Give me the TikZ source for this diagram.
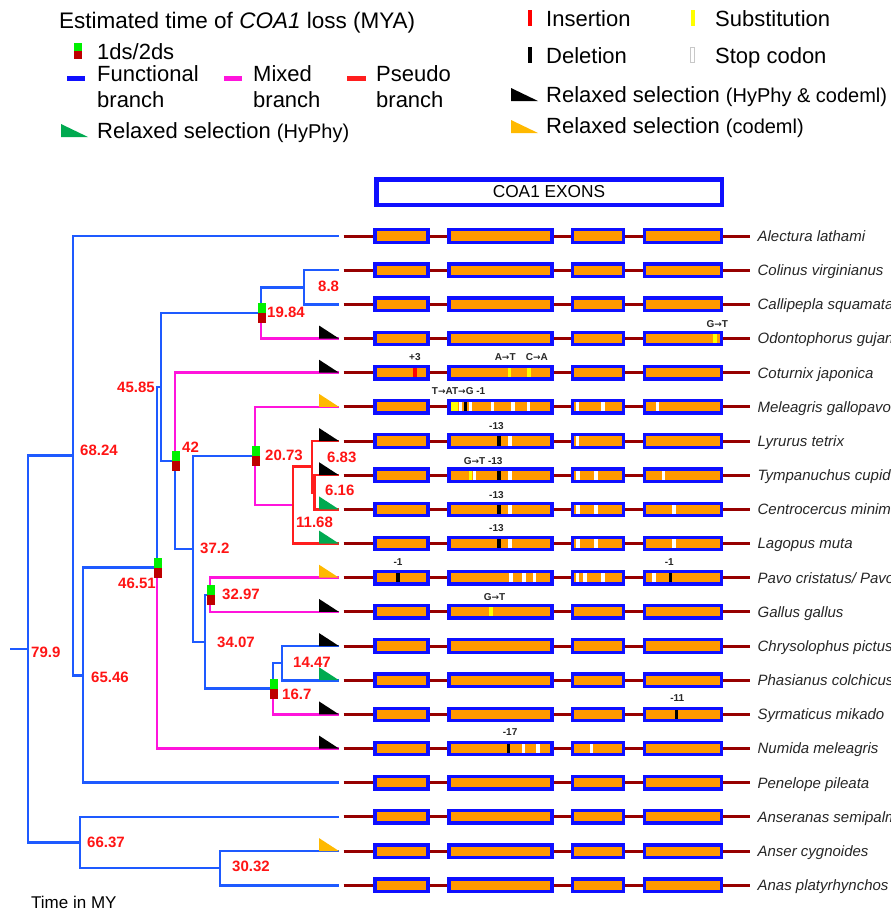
\documentclass[tikz,border=0pt]{standalone}
\usepackage{fontspec}
\setmainfont{Liberation Sans}
\newfontfamily\arrowfont{DejaVu Sans}
\newcommand\myarr{{\arrowfont\bfseries\fontsize{9}{9}\selectfont →}}
\usetikzlibrary{calc}
\definecolor{brblue}{RGB}{30,90,255}
\definecolor{brmag}{RGB}{255,20,220}
\definecolor{brred}{RGB}{255,30,30}
\definecolor{lblred}{RGB}{255,20,20}
\definecolor{exblue}{RGB}{15,15,255}
\definecolor{exorange}{RGB}{255,153,0}
\definecolor{genered}{RGB}{150,0,0}
\definecolor{mkgreen}{RGB}{0,240,0}
\definecolor{mkred}{RGB}{190,0,0}
\definecolor{trigreen}{RGB}{0,170,80}
\definecolor{triorange}{RGB}{255,185,0}
\definecolor{subyellow}{RGB}{255,255,0}
\definecolor{insred}{RGB}{255,0,0}
\definecolor{stopgray}{RGB}{200,200,200}
\newcommand\rowy[1]{236+34.17*#1}
\newcommand\mutmark[3]{\fill[#1] ({#3-1.75},{\rowy{#2}-4.6}) rectangle ({#3+1.75},{\rowy{#2}+4.6});}
\begin{document}
\begin{tikzpicture}[x=1pt,y=-1pt,
  brf/.style={draw=brblue,line width=2.6pt},
  brm/.style={draw=brmag,line width=2.6pt},
  brp/.style={draw=brred,line width=2.6pt},
  gline/.style={draw=genered,line width=3pt},
  exonbox/.style={draw=exblue,fill=exorange,line width=3.3pt},
  hdrbox/.style={draw=exblue,fill=white,line width=4.2pt},
  agelbl/.style={text=lblred,font=\bfseries\fontsize{15}{15}\selectfont,anchor=west,inner sep=0pt,text height=10.7pt,text depth=0pt},
  splbl/.style={text=black!85,font=\itshape\fontsize{15}{15}\selectfont,anchor=west,inner sep=0pt,text height=10.7pt,text depth=0pt},
  leglbl/.style={font=\fontsize{22}{22}\selectfont,anchor=west,inner sep=0pt,text height=15.75pt,text depth=0pt},
  mutlbl/.style={text=black!85,font=\bfseries\fontsize{10}{10}\selectfont,inner sep=0pt,text height=7.2pt,text depth=0pt},
  sub/.style={subyellow},
  ins/.style={insred},
  del/.style={black},
  stopc/.style={white},
]
\useasboundingbox (0,0) rectangle (891,911);

% ---------- legend ----------
\node[leglbl,font=\fontsize{22.5}{22.5}\selectfont,text height=16.1pt] (title) at (59,20) {Estimated time of \textit{COA1} loss (MYA)};
\fill[mkgreen] (74,43) rectangle (82,51);
\fill[mkred] (74,51) rectangle (82,59);
\node[leglbl] (lg1ds) at (97,52) {1ds/2ds};
\fill[exblue] (67,76) rectangle (85,81);
\node[leglbl] (lgfun) at (97,74) {Functional};
\node[leglbl] (lgfunb) at (97,100) {branch};
\fill[brmag] (224,76) rectangle (242,81);
\node[leglbl] (lgmix) at (253,74) {Mixed};
\node[leglbl] (lgmixb) at (253,100) {branch};
\fill[brred] (347,76) rectangle (366,81);
\node[leglbl] (lgpse) at (376,74) {Pseudo};
\node[leglbl] (lgpseb) at (376,100) {branch};
\fill[trigreen] (61,124) -- (61,137) -- (88,137) -- cycle;
\node[leglbl] (lgrh) at (97,131) {Relaxed selection {\fontsize{20}{20}\selectfont(HyPhy)}};

\fill[insred] (527.5,10) rectangle (531.5,26);
\node[leglbl] (lgins) at (546,18.5) {Insertion};
\fill[subyellow] (690.5,10) rectangle (694.5,26);
\node[leglbl] (lgsub) at (715,18.5) {Substitution};
\fill[black] (527.5,47) rectangle (531.5,63);
\node[leglbl] (lgdel) at (546,55.5) {Deletion};
\draw[stopgray,fill=white,line width=1pt] (690.5,47.5) rectangle (694.5,62.5);
\node[leglbl] (lgstop) at (715,55.5) {Stop codon};
\fill[black] (511,88) -- (511,101) -- (538,101) -- cycle;
\node[leglbl] (lgrhc) at (546,95) {Relaxed selection {\fontsize{20}{20}\selectfont(HyPhy \& codeml)}};
\fill[triorange] (511,120) -- (511,133) -- (538,133) -- cycle;
\node[leglbl] (lgrc) at (546,126) {Relaxed selection {\fontsize{20}{20}\selectfont(codeml)}};

% ---------- header ----------
\draw[hdrbox] (376.5,179.4) rectangle (721.6,204.6);
\node[font=\fontsize{17.3}{17.3}\selectfont,inner sep=0pt] (hdr) at (549,192) {COA1 EXONS};

% ---------- rows ----------
\foreach \i/\sp in {0/Alectura lathami,1/Colinus virginianus,2/Callipepla squamata,3/Odontophorus gujanensis,4/Coturnix japonica,5/Meleagris gallopavo,6/Lyrurus tetrix,7/Tympanuchus cupido,8/Centrocercus minimus,9/Lagopus muta,10/{Pavo cristatus/ Pavo muticus},11/Gallus gallus,12/Chrysolophus pictus,13/Phasianus colchicus,14/Syrmaticus mikado,15/Numida meleagris,16/Penelope pileata,17/Anseranas semipalmata,18/Anser cygnoides,19/Anas platyrhynchos}{
  \coordinate (L\i) at (339,{\rowy{\i}});
  \draw[gline] (343.5,{\rowy{\i}}) -- (750.4,{\rowy{\i}});
  \foreach \a/\b in {375.05/427.95,448.85/551.95,572.45/623.65,644.55/721.35}
    \draw[exonbox] (\a,{\rowy{\i}-6.2}) rectangle (\b,{\rowy{\i}+6.2});
  \node[splbl] (sp\i) at (757.4,{\rowy{\i}}) {\sp};
}

% ---------- mutations ----------
\mutmark{sub}{3}{714.9}
\mutmark{ins}{4}{414.9}
\mutmark{sub}{4}{509.7}
\mutmark{sub}{4}{529.1}
\foreach \t/\x in {sub/452.6,sub/456.2,stopc/460.5,del/465.3,stopc/470.7,stopc/492.5,stopc/513,stopc/528.5,stopc/577.5,stopc/602.8,stopc/657.7}{\mutmark{\t}{5}{\x}}
\foreach \t/\x in {del/498.8,stopc/510.1,stopc/577.5}{\mutmark{\t}{6}{\x}}
\foreach \t/\x in {sub/470.7,stopc/474.6,del/498.8,stopc/510.1,stopc/578.2,stopc/595.8,stopc/663.3}{\mutmark{\t}{7}{\x}}
\foreach \t/\x in {del/498.8,stopc/510.1,stopc/578.2,stopc/595.8,stopc/673.8}{\mutmark{\t}{8}{\x}\mutmark{\t}{9}{\x}}
\foreach \t/\x in {del/398,stopc/510.8,stopc/524.1,stopc/534.3,stopc/577.5,stopc/584.9,stopc/602.8,stopc/653.8,del/670.3}{\mutmark{\t}{10}{\x}}
\mutmark{sub}{11}{491.1}
\mutmark{del}{14}{676.6}
\foreach \t/\x in {del/508.7,stopc/523.4,stopc/537.8,stopc/591.6}{\mutmark{\t}{15}{\x}}

\node[mutlbl] (m1) at (717.3,324) {G\myarr T};
\node[mutlbl] (m2) at (414.9,357) {+3};
\node[mutlbl] (m3) at (505.2,357) {A\myarr T};
\node[mutlbl] (m4) at (536.8,357) {C\myarr A};
\node[mutlbl] (m5) at (458.6,391) {T\myarr AT\myarr G -1};
\node[mutlbl] (m6) at (496.4,426) {-13};
\node[mutlbl] (m7) at (483.2,461) {G\myarr T -13};
\node[mutlbl] (m8) at (496.4,495) {-13};
\node[mutlbl] (m9) at (496.4,528) {-13};
\node[mutlbl] (m10) at (398,562) {-1};
\node[mutlbl] (m11) at (669.3,562) {-1};
\node[mutlbl] (m12) at (494.6,597) {G\myarr T};
\node[mutlbl] (m13) at (677.3,698) {-11};
\node[mutlbl] (m14) at (510.1,732) {-17};

% ---------- tree ----------
\coordinate (stub) at (10,649.05);
\coordinate (root) at (28,649.05);
\coordinate (n6824) at (73,455.6);
\coordinate (n6546) at (83,675.2);
\coordinate (n4651) at (157,567.7);
\coordinate (n4585) at (161,386.85);
\coordinate (n1984) at (261,312.9);
\coordinate (n88) at (304,287.25);
\coordinate (n42) at (175,460.8);
\coordinate (n372) at (193,548.9);
\coordinate (n2073) at (255,456);
\coordinate (n1168) at (293,505.1);
\coordinate (n683) at (312,466.65);
\coordinate (n616) at (314.5,492.3);
\coordinate (n3407) at (205,641.8);
\coordinate (n3297) at (210,594.8);
\coordinate (n167) at (273,688.75);
\coordinate (n1447) at (282,663.1);
\coordinate (n6637) at (80,842.5);
\coordinate (n3032) at (220,868.15);

\draw[brf] (stub) -- (root);
\draw[brf] (root) |- (n6824);
\draw[brf] (root) |- (n6637);
\draw[brf] (n6824) |- (L0);
\draw[brf] (n6824) |- (n6546);
\draw[brf] (n6546) |- (n4651);
\draw[brf] (n6546) |- (L16);
\draw[brf] (n4651) |- (n4585);
\draw[brm] (n4651) |- (L15);
\draw[brf] (n4585) |- (n1984);
\draw[brf] (n4585) |- (n42);
\draw[brf] (n1984) |- (n88);
\draw[brm] (n1984) |- (L3);
\draw[brf] (n88) |- (L1);
\draw[brf] (n88) |- (L2);
\draw[brm] (n42) |- (L4);
\draw[brf] (n42) |- (n372);
\draw[brf] (n372) |- (n2073);
\draw[brf] (n372) |- (n3407);
\draw[brm] (n2073) |- (L5);
\draw[brm] (n2073) |- (n1168);
\draw[brp] (n1168) |- (n683);
\draw[brp] (n1168) |- (L9);
\draw[brp] (n683) |- (L6);
\draw[brp] (n683) |- (n616);
\draw[brp] (n616) |- (L7);
\draw[brp] (n616) |- (L8);
\draw[brf] (n3407) |- (n3297);
\draw[brf] (n3407) |- (n167);
\draw[brm] (n3297) |- (L10);
\draw[brm] (n3297) |- (L11);
\draw[brf] (n167) |- (n1447);
\draw[brm] (n167) |- (L14);
\draw[brf] (n1447) |- (L12);
\draw[brf] (n1447) |- (L13);
\draw[brf] (n6637) |- (L17);
\draw[brf] (n6637) |- (n3032);
\draw[brf] (n3032) |- (L18);
\draw[brf] (n3032) |- (L19);

% relaxed selection triangles
\foreach \r/\c in {3/black,4/black,5/triorange,6/black,7/black,8/trigreen,9/trigreen,10/triorange,11/black,12/black,13/trigreen,14/black,15/black,18/triorange}
  \fill[\c] ([shift={(-20,-13)}]L\r) -- ([shift={(-20,0)}]L\r) -- (L\r) -- cycle;

% 1ds/2ds markers
\foreach \n in {n4651,n42,n2073,n1984,n3297,n167}{
  \fill[mkgreen] ([shift={(-3.5,-10)}]\n) rectangle ([shift={(4.5,0)}]\n);
  \fill[mkred] ([shift={(-3.5,0)}]\n) rectangle ([shift={(4.5,10)}]\n);
}

% age labels
\node[agelbl] (t799) at (31,652) {79.9};
\node[agelbl] (t6824) at (80,450) {68.24};
\node[agelbl] (t6546) at (91,677) {65.46};
\node[agelbl] (t4651) at (118,583) {46.51};
\node[agelbl] (t4585) at (117,387) {45.85};
\node[agelbl] (t42) at (182,447) {42};
\node[agelbl] (t372) at (200,548) {37.2};
\node[agelbl] (t2073) at (265,455) {20.73};
\node[agelbl] (t1984) at (267,312) {19.84};
\node[agelbl] (t88) at (318,286) {8.8};
\node[agelbl] (t683) at (327,457) {6.83};
\node[agelbl] (t616) at (325,490) {6.16};
\node[agelbl] (t1168) at (296,522) {11.68};
\node[agelbl] (t3407) at (217,642) {34.07};
\node[agelbl] (t3297) at (222,594) {32.97};
\node[agelbl] (t1447) at (293,662) {14.47};
\node[agelbl] (t167) at (282,694) {16.7};
\node[agelbl] (t6637) at (87,842) {66.37};
\node[agelbl] (t3032) at (232,866) {30.32};

\node[font=\fontsize{17}{17}\selectfont,anchor=west,inner sep=0pt,text height=12.2pt,text depth=0pt] (timelbl) at (31,902) {Time in MY};
\end{tikzpicture}
\end{document}
